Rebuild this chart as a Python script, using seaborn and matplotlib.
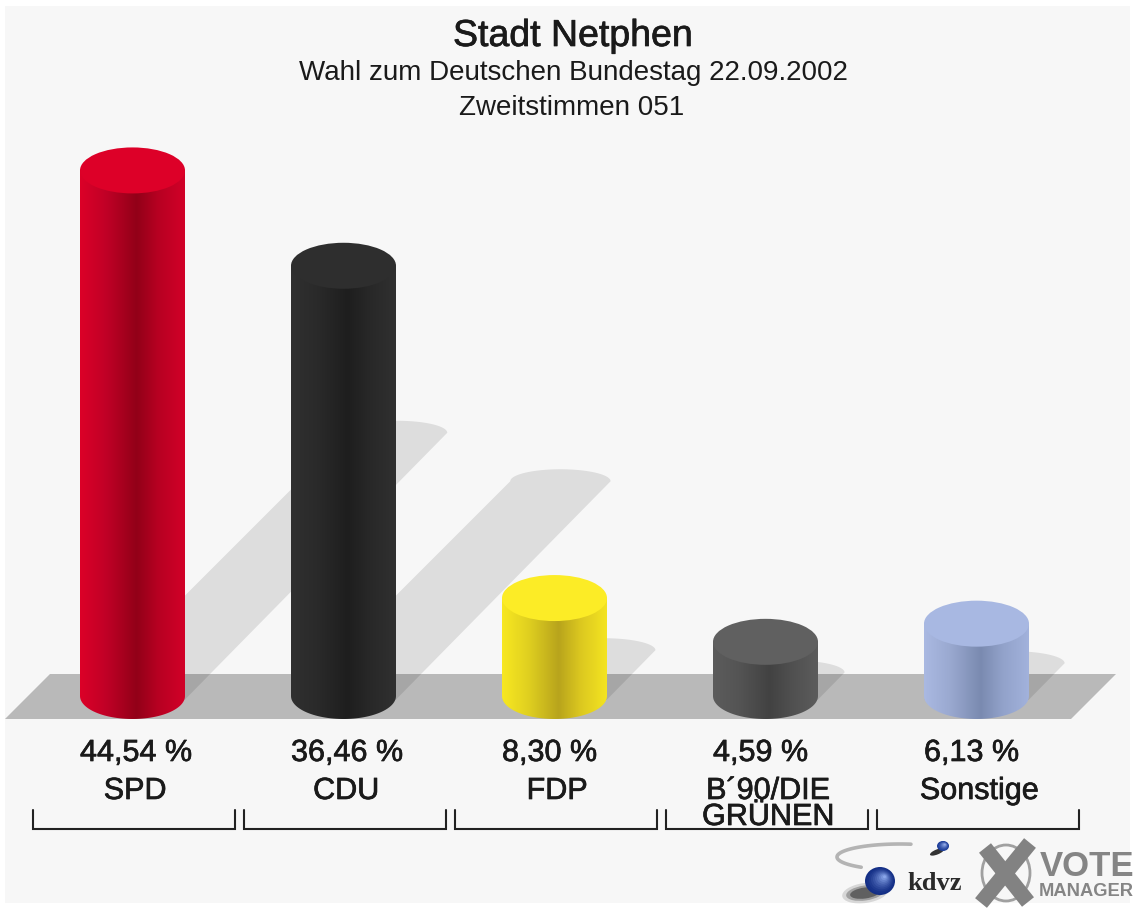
import numpy as np
import pandas as pd
import seaborn as sns
import matplotlib
matplotlib.use("Agg")
import matplotlib.pyplot as plt
import matplotlib.patheffects as pe
from matplotlib.colors import LinearSegmentedColormap, to_rgb
from matplotlib.patches import Ellipse, Polygon, Rectangle, PathPatch
from matplotlib.path import Path
from matplotlib.transforms import Affine2D, blended_transform_factory

parties = ["SPD", "CDU", "FDP", "B´90/DIE\nGRÜNEN", "Sonstige"]
shares = [44.54, 36.46, 8.30, 4.59, 6.13]
share_labels = ["44,54 %", "36,46 %", "8,30 %", "4,59 %", "6,13 %"]
top_colors = ["#dd0028", "#2e2e2e", "#fcec26", "#606060", "#a8b8e2"]
side_stops = [
    ["#dc0028", "#c00026", "#920018", "#b80022", "#d20028"],
    ["#303030", "#2a2a2a", "#1e1e1e", "#282828", "#303030"],
    ["#f8e820", "#e0d020", "#b8a41c", "#dcc820", "#f4e420"],
    ["#5c5c5c", "#545454", "#424242", "#505050", "#5c5c5c"],
    ["#aab9e2", "#9aa9d0", "#7a8ab0", "#92a2ca", "#a2b2dc"],
]

W, H = 1133, 909
sns.set_theme(style="white")
plt.rcParams["font.family"] = ["Liberation Sans", "DejaVu Sans"]

fig = plt.figure(figsize=(W / 100, H / 100), dpi=100, facecolor="white")
ax = fig.add_axes([0, 0, 1, 1])

# scale: category spacing and value scale of the picture
X0, DX = 132.5, 211.0
BASE, PPU = 696.0, 11.8
xlim = (-X0 / DX, (W - X0) / DX)
ylim = ((BASE - H) / PPU, BASE / PPU)
BW = 105 / DX
EH = 23 / PPU

px = Affine2D().scale(1 / W, -1 / H).translate(0, 1) + fig.transFigure
xpx = blended_transform_factory(ax.transData, px)
soft = [pe.withStroke(linewidth=0.5, foreground="#1a1a1a")]

df = pd.DataFrame({"party": parties, "share": shares})
sns.barplot(data=df, x="party", y="share", hue="party", palette=top_colors,
            width=BW, legend=False, ax=ax, saturation=1, zorder=3, linewidth=0)
ax.set_axis_off()

ax.add_patch(Rectangle((5, 6), W - 8, H - 12, transform=px, fc="#f7f7f7", ec="none", zorder=0))
ax.add_patch(Polygon([(5, 719), (50, 674), (1116, 674), (1071, 719)], transform=px,
                     fc="#b9b9b9", ec="none", zorder=1))

for i, (v, stops, top) in enumerate(zip(shares, side_stops, top_colors)):
    l, r = i - BW / 2, i + BW / 2
    # body gradient clipped to side + rounded foot
    t = np.linspace(np.pi, 2 * np.pi, 60)
    pts = np.column_stack([i + BW / 2 * np.cos(t), EH * np.sin(t)])
    pts = np.vstack([pts, [r, v], [l, v], pts[0]])
    clip = Path(pts, closed=True)
    cmap = LinearSegmentedColormap.from_list("c", list(zip([0, .25, .54, .75, 1], stops)))
    im = ax.imshow(np.linspace(0, 1, 256)[None, :], extent=(l, r, -EH, v), aspect="auto",
                   cmap=cmap, zorder=4, interpolation="bilinear")
    im.set_clip_path(PathPatch(clip, transform=ax.transData))
    ax.add_patch(Ellipse((i, v), BW, 2 * EH, fc=top, ec="none", zorder=5))

    # cast shadow, its length follows the value
    cx = X0 + DX * i
    dy = 6.0 * v
    rx = cx + 52 + 5.9 * v
    lx = cx - 52 + 6.0 * v
    ty = BASE - dy
    a = np.linspace(np.pi, 0, 40)
    mx, hw = (lx + rx) / 2, (rx - lx) / 2
    capx = mx + hw * np.cos(a)
    capy = ty + 4 - 12 * np.sin(a)
    poly = [(cx - 52, 700)] + list(zip(capx, capy)) + [(cx + 52, 700)]
    ax.add_patch(Polygon(poly, transform=px, fc="black", alpha=0.1, ec="none", zorder=2))

    # labels
    ax.text(l, 753, share_labels[i], transform=xpx, ha="left", va="center", fontsize=22,
            color="#1a1a1a", zorder=6, path_effects=soft)
    for j, s in enumerate(parties[i].split("\n")):
        ax.text(i + 0.012, 791 + 26 * j, s, transform=xpx, ha="center", va="center",
                fontsize=22, color="#1a1a1a", zorder=6, path_effects=soft)
    # bracket
    ax.plot([i + 0.007 - .479, i + 0.007 - .479, i + 0.007 + .479, i + 0.007 + .479], [810, 829, 829, 810],
            transform=xpx, color="#222222", lw=1.5, zorder=6, solid_joinstyle="miter")

ax.set_xlim(xlim)
ax.set_ylim(ylim)

ax.text(573, 36, "Stadt Netphen", transform=px, ha="center", va="center", fontsize=27,
        color="#1a1a1a", zorder=6, path_effects=soft)
ax.text(573, 73, "Wahl zum Deutschen Bundestag 22.09.2002", transform=px, ha="center", va="center",
        fontsize=20, color="#1a1a1a", zorder=6)
ax.text(572, 108, "Zweitstimmen 051", transform=px, ha="center", va="center",
        fontsize=20, color="#1a1a1a", zorder=6)


# logos
def ball(x, y, rx, ry, dark, light):
    d, li = np.array(to_rgb(dark)), np.array(to_rgb(light))
    for k, f in enumerate(np.linspace(0, 1, 10)):
        s = 1 - 0.9 * f
        ax.add_patch(Ellipse((x + 0.3 * rx * f, y - 0.3 * ry * f), 2 * rx * s, 2 * ry * s, transform=px,
                             fc=tuple(d + (li - d) * f ** 1.5), ec="none", zorder=7))


th = np.radians(np.linspace(80, 232, 60))
ax.plot(900 + 63 * np.cos(th), 857 - 13 * np.sin(th), transform=px, color="#b4b4b4", lw=2.6, zorder=6)
for k, (w_, h_, al) in enumerate([(46, 20, .15), (38, 15, .3), (30, 11, .5)]):
    ax.add_patch(Ellipse((865, 893), w_, h_, angle=-8, transform=px, fc="#222222", alpha=al, ec="none", zorder=6))
ball(880, 881, 15, 14, "#142f86", "#8aa6ea")
ax.add_patch(Ellipse((937, 852), 15, 5, angle=-22, transform=px, fc="#333333", ec="none", zorder=6))
ball(943, 846, 6, 5, "#1e3f9a", "#9ab2ee")
ax.text(935, 884, "kdvz", transform=px, ha="center", va="center", fontsize=19, fontweight="bold",
        family="Liberation Serif", color="#2a2a2a", zorder=6)
ax.add_patch(Ellipse((1006, 873), 48, 56, transform=px, fc="none", ec="#a0a0a0", lw=2, zorder=6))
ax.plot([985, 1028], [848, 902], transform=px, color="#828282", lw=11, zorder=6, solid_capstyle="butt")
ax.plot([1030, 981], [843, 903], transform=px, color="#828282", lw=11, zorder=6, solid_capstyle="butt")
ax.text(1040, 866, "VOTE", transform=px, ha="left", va="center", fontsize=25, fontweight="bold", color="#858585", zorder=6)
ax.text(1039, 891, "MANAGER", transform=px, ha="left", va="center", fontsize=13.2, fontweight="bold", color="#858585", zorder=6)

fig.savefig("out.png", dpi=100, facecolor="white")
